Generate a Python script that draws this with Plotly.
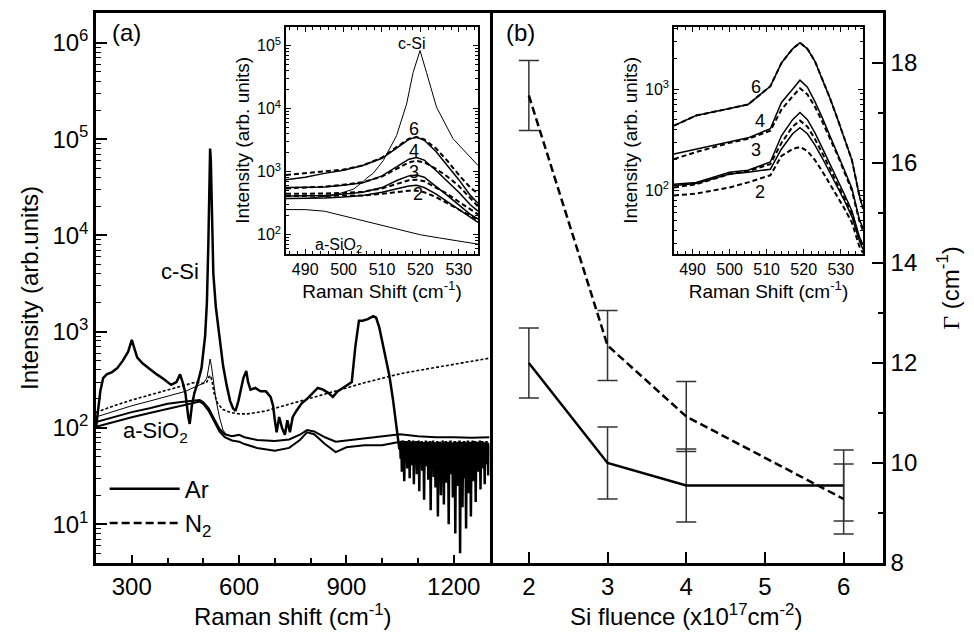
import numpy as np
import plotly.graph_objects as go

# ---------------- panel (a): main Raman spectra ----------------
csi_x = [200, 205, 212, 220, 230, 245, 260, 275, 290, 300, 305, 315, 330, 350, 370, 390, 410, 425, 435, 442,
         450, 458, 462, 468, 475, 485, 495, 505, 510, 514, 517, 519, 521, 524, 528, 535, 545, 555, 565, 575,
         583, 590, 598, 605, 612, 620, 625, 632, 645, 660, 675, 688, 695, 700, 705, 712, 720, 728, 735, 742,
         750, 760, 775, 790, 805, 820, 835, 850, 862, 875, 890, 905, 915, 925, 935, 945, 960, 975, 983, 992,
         1000, 1010, 1020, 1030, 1037, 1042, 1048]
csi_y = [100, 150, 240, 330, 360, 380, 420, 500, 620, 820, 700, 540, 470, 410, 360, 320, 280, 300, 360, 300,
         230, 130, 110, 170, 230, 300, 420, 900, 2000, 8000, 30000, 80000, 60000, 15000, 4000, 1800, 900, 450, 280, 190,
         160, 150, 190, 250, 330, 390, 300, 250, 260, 240, 240, 210, 170, 120, 90, 130, 100, 85, 120, 90,
         130, 150, 180, 200, 230, 260, 250, 230, 210, 240, 260, 280, 300, 700, 1300, 1300, 1350, 1450, 1400, 1100,
         800, 520, 350, 200, 120, 80, 60]
# noisy tail of the c-Si spectrum (1050-1300 cm-1), read point by point
csi_tail_y = [72, 48, 70, 35, 66, 74, 52, 28, 71, 60, 44, 73, 38, 69, 57, 75, 30, 67, 50, 72,
              41, 63, 74, 26, 70, 55, 47, 73, 33, 68, 61, 74, 22, 70, 45, 65, 73, 36, 58, 71,
              18, 69, 52, 74, 40, 62, 72, 29, 67, 55, 73, 14, 70, 48, 64, 74, 31, 60, 71, 24,
              68, 53, 73, 12, 66, 45, 72, 58, 20, 70, 38, 74, 50, 16, 69, 61, 73, 27, 65, 44,
              72, 10, 68, 56, 74, 33, 62, 71, 19, 67, 48, 73, 8, 64, 55, 72, 25, 69, 41, 74,
              5, 66, 58, 72, 15, 70, 46, 73, 30, 63, 9, 71, 52, 74, 21, 67, 43, 72, 12, 68,
              57, 74, 28, 65, 49, 73, 17, 70, 54, 72, 35, 66, 60, 74, 23, 69, 47, 73, 38, 64,
              71, 26, 68, 55, 73, 42, 70, 32, 66, 58]
csi_tail_x = list(np.linspace(1050, 1300, len(csi_tail_y)))

ar_x = [200, 250, 300, 350, 400, 450, 480, 500, 510, 515, 519, 523, 528, 535, 545, 555, 565, 580, 600]
ar_y = [130, 150, 170, 190, 215, 240, 270, 290, 330, 450, 520, 430, 300, 200, 130, 95, 85, 82, 84]

n2_x = [200, 250, 300, 350, 400, 450, 480, 500, 510, 516, 520, 525, 530, 540, 555, 575, 600, 625, 650, 675,
        700, 750, 800, 850, 900, 950, 1000, 1050, 1100, 1150, 1200, 1250, 1300]
n2_y = [145, 170, 195, 220, 245, 275, 300, 290, 300, 340, 350, 300, 230, 180, 155, 145, 140, 140, 145, 150,
        160, 180, 205, 230, 260, 295, 330, 365, 395, 425, 460, 495, 530]

sio2_x = [200, 250, 300, 350, 400, 450, 470, 490, 500, 515, 530, 545, 560, 580, 600, 615, 650, 700, 740, 770,
          790, 810, 840, 870, 900, 950, 1000, 1050, 1100, 1150, 1200, 1250, 1300]
sio2_a_y = [115, 130, 146, 160, 178, 188, 190, 195, 185, 160, 125, 98, 86, 82, 85, 80, 75, 73, 76, 85,
            95, 92, 80, 72, 74, 78, 82, 86, 82, 80, 80, 79, 80]
sio2_b_y = [103, 116, 129, 143, 158, 176, 182, 188, 178, 150, 118, 92, 80, 74, 72, 68, 62, 58, 62, 75,
            90, 86, 68, 56, 63, 66, 66, 72, 70, 68, 68, 67, 68]

# ---------------- inset of (a) ----------------
ia_x = [485, 490, 495, 500, 505, 510, 514, 517, 519, 521, 524, 527, 530, 533, 535]
ia_csi_x = [485, 490.4, 497.4, 502.6, 505.2, 506, 507.7, 510.3, 513.8, 516.4, 518.1, 519.9, 521.6, 524.2,
            528.5, 532, 533.7, 535]
ia_csi_y = [376, 376, 422, 531, 708, 794, 944, 1496, 3758, 11885, 37584, 84140, 37584, 10593,
            3350, 1995, 1585, 1259]
ia_6_ar = [750, 822, 944, 1059, 1259, 1641, 2427, 3273, 3548, 3162, 2113, 1259, 750, 422, 316]
ia_6_n2 = [891, 944, 1000, 1084, 1259, 1679, 2512, 3350, 3548, 3273, 2371, 1496, 891, 562, 447]
ia_4_ar = [562, 562, 575, 610, 668, 861, 1216, 1585, 1679, 1531, 1059, 708, 473, 299, 237]
ia_4_n2 = [543, 556, 582, 624, 684, 841, 1122, 1413, 1496, 1413, 1122, 841, 596, 376, 282]
ia_3_ar = [412, 412, 422, 442, 473, 562, 733, 861, 891, 822, 596, 422, 299, 211, 178]
ia_3_n2 = [447, 447, 452, 462, 484, 543, 653, 733, 750, 708, 562, 447, 335, 251, 211]
ia_2_ar = [376, 376, 385, 398, 422, 473, 543, 596, 610, 562, 447, 335, 251, 188, 158]
ia_2_n2 = [412, 412, 412, 417, 422, 447, 484, 501, 501, 473, 398, 316, 251, 200, 172]
ia_sio2_x = [485, 490, 495, 500, 505, 510, 515, 520, 525, 530, 535]
ia_sio2_y = [251, 251, 237, 200, 168, 141, 119, 100, 89, 79, 71]

# ---------------- panel (b): line width vs fluence ----------------
fluence = [2, 3, 4, 6]
gamma_ar = [12.0, 10.0, 9.55, 9.55]
err_ar = [0.7, 0.72, 0.73, 0.71]
gamma_n2 = [17.35, 12.35, 10.93, 9.28]
err_n2 = [0.7, 0.7, 0.7, 0.7]

# ---------------- inset of (b) ----------------
ib_x = [485, 491, 500, 505, 511, 514, 517, 519, 521, 523, 525, 527, 529, 531, 533, 535, 536]
ib_6 = [437, 550, 646, 708, 1072, 1820, 2512, 2884, 2512, 1905, 1259, 832, 525, 331, 200, 89, 66]
ib_4_ar = [229, 257, 302, 331, 407, 741, 1000, 1230, 1047, 759, 525, 355, 240, 158, 105, 52, 42]
ib_4_n2 = [204, 240, 295, 324, 389, 631, 851, 1023, 891, 676, 479, 331, 229, 151, 100, 50, 40]
ib_3_ar = [115, 120, 151, 158, 191, 347, 501, 589, 501, 372, 263, 186, 132, 91, 63, 35, 29]
ib_3_n2 = [107, 115, 145, 155, 182, 295, 427, 490, 427, 324, 234, 166, 117, 83, 59, 33, 28]
ib_2_ar = [112, 117, 145, 151, 162, 257, 363, 417, 363, 282, 209, 151, 110, 79, 55, 32, 26]
ib_2_n2 = [89, 93, 107, 120, 141, 219, 257, 269, 245, 200, 155, 117, 89, 66, 48, 28, 24]

FONT = "Liberation Sans, Arial, sans-serif"
BLACK = "black"

fig = go.Figure()


def line(x, y, xa, ya, width=1.5, dash="solid", name=None, legend=False):
    fig.add_trace(go.Scatter(x=x, y=y, xaxis=xa, yaxis=ya, mode="lines", name=name,
                             showlegend=legend, hoverinfo="skip",
                             line=dict(color=BLACK, width=width, dash=dash)))


# panel (a)
line(sio2_x, sio2_b_y, "x", "y", width=2)
line(sio2_x, sio2_a_y, "x", "y", width=2)
line(ar_x, ar_y, "x", "y", width=1)
line(n2_x, n2_y, "x", "y", width=1.6, dash="3px,2px")
line(csi_x + csi_tail_x, csi_y + csi_tail_y, "x", "y", width=2.5)

# inset (a)
line(ia_sio2_x, ia_sio2_y, "x3", "y3", width=1)
line(ia_csi_x, ia_csi_y, "x3", "y3", width=1)
for ar, n2 in [(ia_6_ar, ia_6_n2), (ia_4_ar, ia_4_n2), (ia_3_ar, ia_3_n2), (ia_2_ar, ia_2_n2)]:
    line(ia_x, ar, "x3", "y3", width=1.5)
    line(ia_x, n2, "x3", "y3", width=2, dash="5px,3px")

# inset (b)
line(ib_x, ib_6, "x4", "y4", width=1.5)
line(ib_x, ib_6, "x4", "y4", width=2, dash="5px,3px")
for ar, n2 in [(ib_4_ar, ib_4_n2), (ib_3_ar, ib_3_n2), (ib_2_ar, ib_2_n2)]:
    line(ib_x, ar, "x4", "y4", width=1.5)
    line(ib_x, n2, "x4", "y4", width=2, dash="5px,3px")

# panel (b)
fig.add_trace(go.Scatter(x=fluence, y=gamma_ar, xaxis="x2", yaxis="y2", mode="lines", name="Ar",
                         line=dict(color=BLACK, width=2.5),
                         error_y=dict(type="data", array=err_ar, visible=True, color="#333",
                                      thickness=1.5, width=10)))
fig.add_trace(go.Scatter(x=fluence, y=gamma_n2, xaxis="x2", yaxis="y2", mode="lines", name="N<sub>2</sub>",
                         line=dict(color=BLACK, width=2.5, dash="8px,4px"),
                         error_y=dict(type="data", array=err_n2, visible=True, color="#333",
                                      thickness=1.5, width=10)))

big = dict(family=FONT, size=24, color=BLACK)
small = dict(family=FONT, size=16, color=BLACK)
mid = dict(family=FONT, size=18, color=BLACK)
ttl = dict(family=FONT, size=19, color=BLACK)

common = dict(showgrid=False, zeroline=False, showline=True, linecolor=BLACK, ticks="inside",
              tickcolor=BLACK)

pow_text = lambda e: "10<sup>%d</sup>" % e

fig.update_layout(
    width=974, height=644, autosize=False,
    margin=dict(l=96, r=91, t=10, b=81),
    paper_bgcolor="white", plot_bgcolor="white",
    font=dict(family=FONT, color=BLACK),
    xaxis=dict(**common, domain=[0, 0.5], anchor="y", range=[200, 1300], linewidth=2.5, mirror=True,
               tickvals=[300, 600, 900, 1200], ticklen=8, tickwidth=2, tickfont=big,
               minor=dict(ticks="inside", dtick=100, tick0=0, ticklen=5, tickwidth=1.5, tickcolor=BLACK),
               title=dict(text="Raman shift (cm<sup>-1</sup>)", font=big, standoff=10)),
    yaxis=dict(**common, domain=[0, 1], anchor="x", type="log", range=[0.597, 6.31], linewidth=2.5,
               mirror=True, tickvals=[10 ** e for e in range(1, 7)],
               ticktext=[pow_text(e) for e in range(1, 7)], ticklen=11, tickwidth=2, tickfont=big,
               minor=dict(ticks="inside", dtick="D1", ticklen=5, tickwidth=1.2, tickcolor=BLACK),
               title=dict(text="Intensity (arb.units)", font=big, standoff=8)),
    xaxis2=dict(**common, domain=[0.5, 1], anchor="y2", range=[1.5, 6.5], linewidth=2.5, mirror=True,
                tickvals=[2, 3, 4, 5, 6], ticklen=11, tickwidth=2, tickfont=big,
                title=dict(text="Si fluence (x10<sup>17</sup>cm<sup>-2</sup>)", font=big, standoff=10)),
    yaxis2=dict(**common, domain=[0, 1], anchor="x2", side="right", range=[8, 19], linewidth=2.5,
                mirror=False, tickvals=[8, 10, 12, 14, 16, 18], ticklen=11, tickwidth=2, tickfont=big,
                minor=dict(ticks="inside", dtick=1, tick0=0, ticklen=5, tickwidth=2, tickcolor=BLACK),
                title=dict(text="<span style='font-family:Liberation Serif'>Γ</span> (cm<sup>-1</sup>)",
                           font=big, standoff=26)),
    xaxis3=dict(**common, domain=[0.2414, 0.4854], anchor="y3", range=[485, 535], linewidth=1.5,
                mirror="allticks", tickvals=[490, 500, 510, 520, 530], ticklen=5, tickwidth=1,
                tickfont=small,
                minor=dict(ticks="inside", dtick=2, tick0=0, ticklen=3, tickwidth=1, tickcolor=BLACK),
                title=dict(text="Raman Shift (cm<sup>-1</sup>)", font=ttl, standoff=0)),
    yaxis3=dict(**common, domain=[0.5624, 0.9747], anchor="x3", type="log", range=[1.7, 5.3],
                linewidth=1.5, mirror="allticks", tickvals=[1e2, 1e3, 1e4, 1e5],
                ticktext=[pow_text(e) for e in range(2, 6)], ticklen=5, tickwidth=1, tickfont=small,
                minor=dict(ticks="inside", dtick="D1", ticklen=3, tickwidth=1, tickcolor=BLACK),
                title=dict(text="Intensity (arb. units)", font=ttl, standoff=2)),
    xaxis4=dict(**common, domain=[0.7344, 0.9746], anchor="y4", range=[485, 536], linewidth=1.5,
                mirror="allticks", tickvals=[490, 500, 510, 520, 530], ticklen=5, tickwidth=1,
                tickfont=small,
                minor=dict(ticks="inside", dtick=2, tick0=0, ticklen=3, tickwidth=1, tickcolor=BLACK),
                title=dict(text="Raman Shift (cm<sup>-1</sup>)", font=ttl, standoff=0)),
    yaxis4=dict(**common, domain=[0.5624, 0.9747], anchor="x4", type="log", range=[1.374, 3.617],
                linewidth=1.5, mirror="allticks", tickvals=[1e2, 1e3],
                ticktext=[pow_text(e) for e in range(2, 4)], ticklen=5, tickwidth=1, tickfont=small,
                minor=dict(ticks="inside", dtick="D1", ticklen=3, tickwidth=1, tickcolor=BLACK),
                title=dict(text="Intensity (arb. units)", font=ttl, standoff=2)),
    legend=dict(x=0.011, y=0.175, xanchor="left", yanchor="top", bgcolor="rgba(0,0,0,0)",
                font=dict(family=FONT, size=24, color=BLACK), itemwidth=70, tracegroupgap=0),
)

ann = [
    dict(text="(a)", xref="paper", yref="paper", x=0.018, y=0.964, font=big),
    dict(text="(b)", xref="paper", yref="paper", x=0.518, y=0.964, font=big),
    dict(text="c-Si", xref="x", yref="y", x=434, y=3.62, font=dict(family=FONT, size=22), xanchor="center"),
    dict(text="a-SiO<sub>2</sub>", xref="x", yref="y", x=365, y=1.96,
         font=dict(family=FONT, size=22), xanchor="center"),
    dict(text="c-Si", xref="x3", yref="y3", x=517.7, y=5.03, font=small, xanchor="center"),
    dict(text="6", xref="x3", yref="y3", x=518.4, y=3.68, font=mid, xanchor="center"),
    dict(text="4", xref="x3", yref="y3", x=518.4, y=3.33, font=mid, xanchor="center"),
    dict(text="3", xref="x3", yref="y3", x=518.4, y=3.0, font=mid, xanchor="center"),
    dict(text="2", xref="x3", yref="y3", x=519.3, y=2.65, font=mid, xanchor="center"),
    dict(text="a-SiO<sub>2</sub>", xref="x3", yref="y3", x=498.7, y=1.83, font=small, xanchor="center"),
    dict(text="6", xref="x4", yref="y4", x=507.2, y=3.02, font=mid, xanchor="center"),
    dict(text="4", xref="x4", yref="y4", x=508.1, y=2.69, font=mid, xanchor="center"),
    dict(text="3", xref="x4", yref="y4", x=507.2, y=2.40, font=mid, xanchor="center"),
    dict(text="2", xref="x4", yref="y4", x=508.1, y=1.98, font=mid, xanchor="center"),
]
for a in ann:
    a.setdefault("xanchor", "left")
    a.setdefault("yanchor", "middle")
    a["showarrow"] = False
fig.update_layout(annotations=ann)

fig.write_html("out.html")
